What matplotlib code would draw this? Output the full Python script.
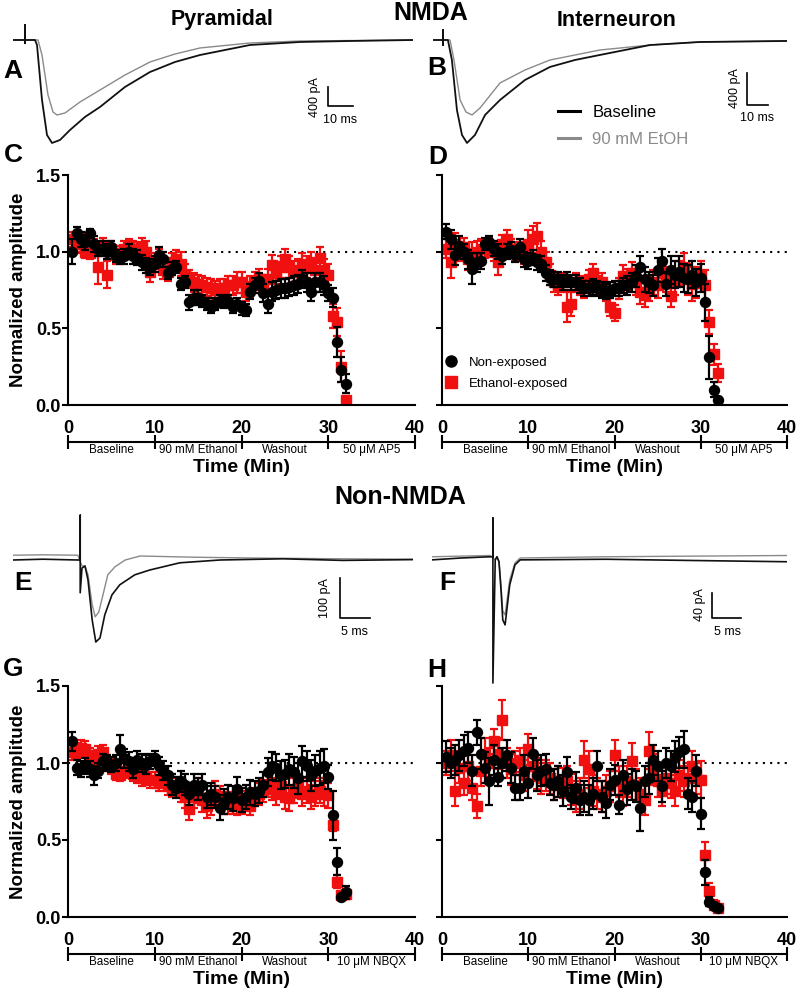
import numpy as np
import matplotlib
matplotlib.use('Agg')
import matplotlib.pyplot as plt
from matplotlib.lines import Line2D

plt.rcParams['font.family'] = ['Liberation Sans', 'DejaVu Sans']

# ---------------- data ----------------
time_min = [0.5, 1.0, 1.5, 2.0, 2.5, 3.0, 3.5, 4.0, 4.5, 5.0,
            5.5, 6.0, 6.5, 7.0, 7.5, 8.0, 8.5, 9.0, 9.5, 10.0,
            10.5, 11.0, 11.5, 12.0, 12.5, 13.0, 13.5, 14.0, 14.5, 15.0,
            15.5, 16.0, 16.5, 17.0, 17.5, 18.0, 18.5, 19.0, 19.5, 20.0,
            20.5, 21.0, 21.5, 22.0, 22.5, 23.0, 23.5, 24.0, 24.5, 25.0,
            25.5, 26.0, 26.5, 27.0, 27.5, 28.0, 28.5, 29.0, 29.5, 30.0,
            30.5, 31.0, 31.5, 32.0]

x_ticks = [0, 10, 20, 30, 40]
phase_centers = [5, 15, 25, 35]
phases_nmda = ['Baseline', '90 mM Ethanol', 'Washout', '50 \u03bcM AP5']
phases_non = ['Baseline', '90 mM Ethanol', 'Washout', '10 \u03bcM NBQX']
y_ticks = [0.0, 0.5, 1.0, 1.5]

# Panel C (NMDA, pyramidal)
c_black = [1.00, 1.12, 1.08, 1.06, 1.12, 1.05, 1.02, 1.02, 1.00, 1.03,
           0.97, 0.96, 0.97, 1.00, 0.97, 0.96, 0.93, 0.91, 0.90, 0.92,
           0.98, 0.95, 0.86, 0.89, 0.90, 0.79, 0.80, 0.67, 0.70, 0.70,
           0.68, 0.66, 0.64, 0.66, 0.68, 0.67, 0.68, 0.64, 0.66, 0.63,
           0.62, 0.74, 0.78, 0.81, 0.73, 0.66, 0.74, 0.75, 0.76, 0.76,
           0.77, 0.78, 0.79, 0.82, 0.80, 0.74, 0.80, 0.80, 0.78, 0.73,
           0.70, 0.41, 0.23, 0.14]
c_black_err = [0.08, 0.04, 0.05, 0.05, 0.03, 0.05, 0.05, 0.05, 0.05, 0.04,
               0.04, 0.04, 0.05, 0.05, 0.05, 0.05, 0.05, 0.05, 0.05, 0.05,
               0.05, 0.05, 0.04, 0.04, 0.04, 0.04, 0.04, 0.05, 0.05, 0.05,
               0.04, 0.04, 0.04, 0.04, 0.04, 0.04, 0.04, 0.04, 0.04, 0.04,
               0.04, 0.05, 0.05, 0.05, 0.06, 0.06, 0.06, 0.06, 0.06, 0.06,
               0.06, 0.06, 0.06, 0.06, 0.06, 0.06, 0.06, 0.06, 0.06, 0.05,
               0.06, 0.10, 0.08, 0.06]
c_red = [1.08, 1.05, 1.06, 1.00, 0.99, 1.03, 0.90, 1.03, 0.85, 1.02,
         0.98, 0.99, 1.02, 1.03, 1.02, 1.00, 1.03, 1.00, 0.87, 0.93,
         0.96, 0.88, 0.87, 0.93, 0.95, 0.92, 0.85, 0.82, 0.80, 0.79,
         0.78, 0.77, 0.76, 0.75, 0.76, 0.76, 0.78, 0.78, 0.80, 0.80,
         0.74, 0.77, 0.80, 0.82, 0.78, 0.82, 0.91, 0.86, 0.90, 0.95,
         0.90, 0.87, 0.88, 0.92, 0.90, 0.93, 0.88, 0.96, 0.88, 0.85,
         0.58, 0.54, 0.25, 0.03]
c_red_err = [0.05, 0.06, 0.06, 0.04, 0.04, 0.05, 0.11, 0.06, 0.09, 0.05,
             0.06, 0.05, 0.05, 0.05, 0.05, 0.06, 0.06, 0.07, 0.07, 0.06,
             0.06, 0.06, 0.06, 0.06, 0.06, 0.08, 0.07, 0.06, 0.06, 0.06,
             0.06, 0.06, 0.06, 0.06, 0.06, 0.06, 0.06, 0.06, 0.07, 0.07,
             0.06, 0.07, 0.07, 0.07, 0.07, 0.07, 0.07, 0.07, 0.07, 0.07,
             0.07, 0.07, 0.07, 0.07, 0.07, 0.07, 0.07, 0.07, 0.07, 0.07,
             0.08, 0.09, 0.10, 0.03]

# Panel D (NMDA, interneuron)
d_black = [1.13, 1.08, 0.98, 1.04, 1.00, 0.95, 0.89, 0.93, 0.94, 1.05,
           1.06, 1.02, 1.00, 0.97, 1.00, 1.01, 0.98, 1.03, 0.95, 0.94,
           0.96, 0.93, 0.92, 0.86, 0.83, 0.82, 0.82, 0.80, 0.82, 0.80,
           0.80, 0.78, 0.76, 0.76, 0.77, 0.76, 0.75, 0.74, 0.75, 0.76,
           0.76, 0.78, 0.78, 0.80, 0.84, 0.90, 0.82, 0.80, 0.78, 0.88,
           0.94, 0.79, 0.88, 0.85, 0.87, 0.83, 0.82, 0.85, 0.80, 0.83,
           0.67, 0.31, 0.10, 0.03]
d_black_err = [0.05, 0.06, 0.07, 0.06, 0.05, 0.06, 0.10, 0.06, 0.05, 0.04,
               0.04, 0.05, 0.05, 0.05, 0.05, 0.05, 0.05, 0.05, 0.05, 0.05,
               0.05, 0.05, 0.05, 0.05, 0.05, 0.05, 0.05, 0.05, 0.05, 0.05,
               0.05, 0.05, 0.05, 0.05, 0.05, 0.05, 0.05, 0.05, 0.05, 0.05,
               0.05, 0.05, 0.06, 0.06, 0.07, 0.07, 0.08, 0.07, 0.07, 0.08,
               0.08, 0.08, 0.09, 0.09, 0.10, 0.09, 0.09, 0.09, 0.09, 0.09,
               0.12, 0.14, 0.05, 0.02]
d_red = [1.02, 0.93, 1.05, 1.00, 1.03, 0.95, 0.98, 1.00, 1.02, 1.02,
         1.03, 1.00, 0.93, 1.05, 1.08, 1.02, 1.00, 1.00, 0.98, 1.05,
         1.08, 1.10, 1.00, 0.93, 0.85, 0.80, 0.78, 0.80, 0.64, 0.66,
         0.80, 0.78, 0.76, 0.82, 0.86, 0.78, 0.80, 0.74, 0.64, 0.60,
         0.76, 0.84, 0.82, 0.86, 0.80, 0.74, 0.72, 0.76, 0.80, 0.78,
         0.86, 0.82, 0.71, 0.80, 0.86, 0.90, 0.82, 0.79, 0.80, 0.85,
         0.78, 0.54, 0.33, 0.21]
d_red_err = [0.06, 0.10, 0.07, 0.06, 0.06, 0.07, 0.08, 0.07, 0.06, 0.06,
             0.06, 0.06, 0.08, 0.06, 0.06, 0.06, 0.06, 0.06, 0.06, 0.09,
             0.09, 0.09, 0.07, 0.07, 0.07, 0.06, 0.06, 0.06, 0.10, 0.08,
             0.06, 0.06, 0.06, 0.06, 0.06, 0.06, 0.06, 0.06, 0.06, 0.05,
             0.07, 0.07, 0.07, 0.07, 0.08, 0.08, 0.08, 0.08, 0.08, 0.08,
             0.08, 0.08, 0.07, 0.08, 0.08, 0.09, 0.10, 0.11, 0.10, 0.09,
             0.10, 0.08, 0.07, 0.06]

# Panel G (non-NMDA, pyramidal)
g_black = [1.14, 0.97, 0.96, 0.98, 0.96, 0.92, 0.95, 1.01, 1.00, 0.99,
           1.00, 1.09, 1.03, 1.01, 0.96, 1.02, 1.00, 0.99, 1.01, 1.03,
           0.98, 0.95, 0.92, 0.86, 0.84, 0.88, 0.86, 0.80, 0.86, 0.83,
           0.86, 0.78, 0.80, 0.78, 0.71, 0.75, 0.78, 0.77, 0.83, 0.76,
           0.78, 0.81, 0.80, 0.82, 0.86, 0.94, 0.98, 0.97, 0.92, 0.93,
           0.96, 0.94, 0.90, 1.01, 0.98, 0.92, 0.95, 0.97, 0.98, 0.91,
           0.66, 0.36, 0.13, 0.16]
g_black_err = [0.06, 0.05, 0.05, 0.05, 0.05, 0.06, 0.05, 0.05, 0.05, 0.05,
               0.05, 0.09, 0.06, 0.06, 0.06, 0.06, 0.06, 0.06, 0.05, 0.05,
               0.06, 0.06, 0.06, 0.07, 0.07, 0.07, 0.07, 0.07, 0.07, 0.07,
               0.07, 0.07, 0.07, 0.07, 0.08, 0.08, 0.08, 0.08, 0.08, 0.08,
               0.08, 0.08, 0.08, 0.08, 0.08, 0.09, 0.09, 0.09, 0.09, 0.09,
               0.10, 0.10, 0.10, 0.10, 0.10, 0.10, 0.10, 0.11, 0.11, 0.08,
               0.16, 0.09, 0.02, 0.04]
g_red = [1.07, 1.08, 1.10, 1.09, 1.05, 1.02, 1.06, 1.07, 1.00, 0.98,
         0.93, 0.92, 0.95, 0.97, 0.93, 0.92, 0.90, 0.91, 0.89, 0.89,
         0.87, 0.90, 0.85, 0.84, 0.85, 0.82, 0.78, 0.70, 0.78, 0.82,
         0.76, 0.72, 0.74, 0.80, 0.78, 0.74, 0.74, 0.73, 0.72, 0.73,
         0.76, 0.72, 0.78, 0.80, 0.82, 0.85, 0.83, 0.80, 0.85, 0.78,
         0.77, 0.82, 0.85, 0.80, 0.82, 0.78, 0.80, 0.82, 0.80, 0.79,
         0.60, 0.23, 0.14, 0.15]
g_red_err = [0.05, 0.05, 0.05, 0.05, 0.05, 0.05, 0.05, 0.05, 0.05, 0.05,
             0.04, 0.04, 0.05, 0.05, 0.05, 0.05, 0.05, 0.05, 0.05, 0.05,
             0.05, 0.05, 0.06, 0.06, 0.06, 0.07, 0.07, 0.07, 0.07, 0.08,
             0.08, 0.08, 0.08, 0.08, 0.07, 0.07, 0.07, 0.06, 0.06, 0.06,
             0.06, 0.06, 0.06, 0.07, 0.07, 0.07, 0.07, 0.07, 0.08, 0.08,
             0.08, 0.08, 0.08, 0.08, 0.08, 0.08, 0.08, 0.08, 0.08, 0.08,
             0.04, 0.04, 0.03, 0.03]

# Panel H (non-NMDA, interneuron)
h_black = [1.04, 1.00, 1.02, 1.05, 1.08, 1.10, 0.95, 1.20, 1.06, 0.97,
           0.88, 1.02, 0.91, 1.00, 1.05, 0.97, 0.84, 0.84, 0.95, 0.87,
           1.06, 0.92, 0.95, 0.96, 0.87, 0.86, 0.88, 0.82, 0.94, 0.78,
           0.84, 0.76, 0.78, 0.76, 0.80, 0.98, 0.78, 0.74, 0.86, 0.89,
           0.73, 0.92, 0.83, 0.86, 0.85, 0.71, 0.88, 0.90, 1.02, 0.98,
           0.85, 1.00, 0.98, 1.04, 1.07, 1.09, 0.80, 0.78, 0.95, 0.67,
           0.29, 0.10, 0.07, 0.06]
h_black_err = [0.10, 0.10, 0.10, 0.10, 0.10, 0.10, 0.10, 0.08, 0.10, 0.10,
               0.15, 0.10, 0.06, 0.10, 0.10, 0.10, 0.08, 0.08, 0.10, 0.10,
               0.10, 0.10, 0.10, 0.10, 0.08, 0.10, 0.10, 0.10, 0.10, 0.08,
               0.10, 0.10, 0.10, 0.10, 0.10, 0.10, 0.10, 0.10, 0.10, 0.10,
               0.06, 0.10, 0.10, 0.10, 0.10, 0.15, 0.10, 0.10, 0.10, 0.10,
               0.10, 0.10, 0.10, 0.10, 0.10, 0.12, 0.10, 0.10, 0.10, 0.10,
               0.08, 0.03, 0.02, 0.02]
h_red = [1.00, 1.05, 0.82, 0.97, 0.87, 0.98, 0.84, 0.72, 0.95, 1.06,
         1.00, 1.14, 1.06, 1.28, 1.00, 0.96, 1.00, 1.02, 0.92, 1.09,
         0.98, 0.93, 0.90, 0.92, 0.90, 0.86, 0.88, 0.87, 0.88, 0.83,
         0.78, 0.80, 1.02, 0.96, 0.82, 0.80, 0.78, 0.82, 0.85, 1.05,
         0.88, 0.82, 0.88, 1.01, 0.86, 0.80, 0.76, 1.08, 0.96, 0.88,
         0.82, 0.90, 0.87, 0.82, 0.92, 0.88, 0.90, 0.98, 0.90, 0.89,
         0.40, 0.17, 0.08, 0.06]
h_red_err = [0.08, 0.10, 0.10, 0.10, 0.08, 0.10, 0.08, 0.08, 0.10, 0.10,
             0.10, 0.08, 0.10, 0.13, 0.10, 0.10, 0.08, 0.08, 0.10, 0.10,
             0.10, 0.10, 0.10, 0.10, 0.10, 0.10, 0.10, 0.10, 0.10, 0.10,
             0.10, 0.10, 0.12, 0.12, 0.10, 0.10, 0.10, 0.10, 0.10, 0.10,
             0.10, 0.10, 0.10, 0.12, 0.10, 0.10, 0.10, 0.12, 0.10, 0.10,
             0.10, 0.10, 0.10, 0.10, 0.10, 0.10, 0.10, 0.10, 0.10, 0.12,
             0.09, 0.05, 0.03, 0.02]

# Example traces (time in ms, current in pA)
a_t_black = [0, 4.8, 4.8, 4.8, 4.8, 8.8, 9.6, 11.6, 13.6, 15.6, 18.8, 22.8, 28.8, 34.8,
             44.8, 54.8, 64.8, 74.8, 94.8, 114.8, 134.8, 160]
a_i_black = [0, 0, 315, -63, 0, 0, -105, -1263, -2000, -2168, -2105, -1895, -1620, -1410,
             -989, -674, -463, -316, -105, -42, -21, 0]
a_t_gray = [0, 10.0, 11.6, 14.0, 16.0, 17.6, 20.8, 26.8, 34.8, 44.8, 54.8, 64.8, 74.8,
            94.8, 114.8, 160]
a_i_gray = [0, 0, -316, -1158, -1516, -1579, -1537, -1305, -1053, -737, -463, -295, -168,
            -63, -21, 0]

b_t_black = [0, 4.8, 4.8, 4.8, 4.8, 7.1, 9.0, 11.4, 13.8, 16.2, 20.0, 24.8, 31.9, 43.8,
             55.7, 67.6, 79.5, 103.3, 127.0, 168.6]
b_i_black = [0, 0, 125, -63, 0, 0, -250, -875, -1187, -1287, -1187, -937, -750, -500,
             -337, -250, -187, -63, -25, -12]
b_t_gray = [0, 8.1, 10.0, 12.9, 15.7, 18.6, 22.4, 31.9, 43.8, 55.7, 79.5, 103.3, 127.0, 168.6]
b_i_gray = [0, 0, -250, -750, -900, -937, -850, -537, -375, -250, -125, -63, -25, -12]

e_t_black = [0, 5, 10.8, 11.2, 11.2, 11.2, 11.5, 12.0, 12.5, 13.2, 13.8, 14.5, 15.3, 16.5,
             17.8, 20.3, 22.8, 27.8, 34.5, 45, 55, 66.7]
e_i_black = [-5, -3, -5, -5, 107, -87, -25, -20, -55, -155, -210, -200, -142, -92,
             -67, -42, -30, -12, -5, -2, -6, -4]
e_t_gray = [0, 5, 10.8, 11.5, 12.0, 12.5, 13.2, 13.7, 14.3, 15.0, 15.8, 17.0, 18.7, 21.2,
            30, 40, 55, 66.7]
e_i_gray = [7, 8, 7, -20, -20, -42, -117, -147, -135, -92, -42, -22, -5, 5, 2, 0, -2, -3]

f_t_black = [0, 5, 10.0, 10.5, 10.5, 10.5, 10.9, 11.2, 11.55, 11.9, 12.2, 12.6, 12.9, 13.4,
             14.3, 15.2, 30, 45, 61.2]
f_i_black = [-3, 0, 2, 2, 64, -200, -3, 2, -6, -51, -99, -107, -83, -43, -11, -3, -2, -4, -6]
f_t_gray = [0, 5, 10.0, 10.9, 11.2, 11.55, 11.9, 12.2, 12.6, 12.9, 13.4, 14.3, 15.2, 30, 45, 61.2]
f_i_gray = [2, 3, 4, -3, 2, -6, -45, -85, -91, -70, -35, -8, 0, 2, 3, 4]

# ---------------- figure ----------------
W, H = 800, 994
fig = plt.figure(figsize=(8, 9.94), dpi=100)
RED = '#f01010'
GRAY = '#8a8a8a'


def rect(x0, y0, x1, y1):
    return [x0 / W, 1 - y1 / H, (x1 - x0) / W, (y1 - y0) / H]


def summary(r, yb, eb, yr, er, phases, ylab):
    ax = fig.add_axes(r)
    ax.axhline(1.0, color='black', ls=(0, (1, 2.5)), lw=1.5, zorder=1)
    ax.errorbar(time_min, yr, yerr=er, fmt='s', color=RED, ms=6.5, capsize=3,
                elinewidth=1.6, capthick=1.6, zorder=2)
    ax.errorbar(time_min, yb, yerr=eb, fmt='o', color='black', ms=7.2, capsize=3,
                elinewidth=1.6, capthick=1.6, zorder=3)
    ax.set_xlim(0, 40)
    ax.set_ylim(0, 1.5)
    ax.spines[['top', 'right']].set_visible(False)
    for s in ['left', 'bottom']:
        ax.spines[s].set_linewidth(1.5)
    ax.set_yticks(y_ticks)
    if ylab:
        ax.set_yticklabels(['%.1f' % v for v in y_ticks], fontweight='bold', fontsize=13)
        ax.set_ylabel('Normalized amplitude', fontsize=13.5, fontweight='bold', labelpad=6)
    else:
        ax.set_yticklabels([])
    ax.tick_params(axis='y', length=4, width=1.5, pad=1)
    ax.set_xticks(x_ticks)
    ax.set_xticklabels([str(v) for v in x_ticks], fontweight='bold', fontsize=13)
    ax.tick_params(axis='x', length=0, pad=11)
    sec = ax.secondary_xaxis(-37 / (r[3] * H))
    sec.set_xticks(x_ticks, labels=[''] * len(x_ticks))
    sec.set_xticks(phase_centers, labels=phases, minor=True)
    sec.tick_params(axis='x', which='major', direction='inout', length=10, width=1.5)
    sec.tick_params(axis='x', which='minor', length=0, pad=1.5, labelsize=8.4)
    sec.spines['bottom'].set_linewidth(1.5)
    sec.set_xlabel('Time (Min)', fontsize=14, fontweight='bold', labelpad=2)
    return ax


axC = summary(rect(68, 175, 415, 405), c_black, c_black_err, c_red, c_red_err, phases_nmda, True)
axD = summary(rect(442, 175, 787, 405), d_black, d_black_err, d_red, d_red_err, phases_nmda, False)
axG = summary(rect(68, 686, 415, 917), g_black, g_black_err, g_red, g_red_err, phases_non, True)
axH = summary(rect(442, 686, 787, 917), h_black, h_black_err, h_red, h_red_err, phases_non, False)

handles = [Line2D([], [], marker='o', color='black', ls='none', ms=8),
           Line2D([], [], marker='s', color=RED, ls='none', ms=8)]
axD.legend(handles, ['Non-exposed', 'Ethanol-exposed'], loc='center left',
           bbox_to_anchor=(444 / W, 1 - 373 / H), bbox_transform=fig.transFigure,
           frameon=False, fontsize=9.5, handlelength=1.0, handletextpad=0.9,
           labelspacing=0.65, borderpad=0, borderaxespad=0)


def trace_ax(px0, py0, px1, py1, xlim, ylim):
    ax = fig.add_axes(rect(px0, py0, px1, py1))
    ax.set_xlim(xlim)
    ax.set_ylim(ylim)
    ax.axis('off')
    ax.patch.set_alpha(0)
    return ax


def scalebar(ax, x0, y0, dx, dy, lab_y, lab_x, ylab_pos, xlab_pos):
    ax.plot([x0, x0, x0 + dx], [y0 + dy, y0, y0], color='black', lw=1.2)
    ax.text(ylab_pos[0], ylab_pos[1], lab_y, rotation=90, ha='center', va='center', fontsize=9)
    ax.text(xlab_pos[0], xlab_pos[1], lab_x, ha='center', va='center', fontsize=9)


axA = trace_ax(13, 20, 413, 150, (0, 160), (-2316, 421))
axA.plot(a_t_gray, a_i_gray, color=GRAY, lw=1.0)
axA.plot(a_t_black, a_i_black, color='#111111', lw=1.3)
scalebar(axA, 126, -1390, 10, 400, '400 pA', '10 ms', (120.8, -1200), (130.8, -1684))

axB = trace_ax(433, 20, 787, 150, (0, 168.6), (-1375, 250))
axB.plot(b_t_gray, b_i_gray, color=GRAY, lw=1.0)
axB.plot(b_t_black, b_i_black, color='#111111', lw=1.3)
scalebar(axB, 149.5, -812, 10, 400, '400 pA', '10 ms', (143.8, -600), (154.3, -975))
leg = axB.legend([Line2D([], [], color='black', lw=2.2), Line2D([], [], color=GRAY, lw=2.2)],
                 ['Baseline', '90 mM EtOH'], loc='center left',
                 bbox_to_anchor=(558 / W, 1 - 126 / H), bbox_transform=fig.transFigure,
                 frameon=False, fontsize=12, handlelength=1.3, handletextpad=0.75,
                 labelspacing=0.75, borderpad=0, borderaxespad=0)
leg.get_texts()[1].set_color(GRAY)

axE = trace_ax(13, 505, 413, 690, (0, 66.67), (-330, 132.5))
axE.plot(e_t_gray, e_i_gray, color=GRAY, lw=1.0)
axE.plot(e_t_black, e_i_black, color='#111111', lw=1.2)
scalebar(axE, 54.5, -150, 5, 100, '100 pA', '5 ms', (52.0, -100), (57.0, -185))

axF = trace_ax(432, 505, 787, 690, (0, 61.2), (-211.2, 84.8))
axF.plot(f_t_gray, f_i_gray, color=GRAY, lw=1.0)
axF.plot(f_t_black, f_i_black, color='#111111', lw=1.2)
scalebar(axF, 48.3, -96, 5, 40, '40 pA', '5 ms', (46.2, -75), (50.9, -118))


def ftext(px, py, s, **kw):
    fig.text(px / W, 1 - py / H, s, ha='center', va='center', fontweight='bold', **kw)


ftext(222, 20, 'Pyramidal', fontsize=15.5)
ftext(431, 13, 'NMDA', fontsize=18)
ftext(617, 20, 'Interneuron', fontsize=15.5)
ftext(400, 497, 'Non-NMDA', fontsize=18)

for lab, px, py in [('A', 13, 71), ('B', 437, 68), ('C', 13, 155), ('D', 438, 157),
                    ('E', 23, 583), ('F', 447, 583), ('G', 13, 669), ('H', 437, 670)]:
    ftext(px, py, lab, fontsize=19)

fig.savefig('out.png', dpi=100)
